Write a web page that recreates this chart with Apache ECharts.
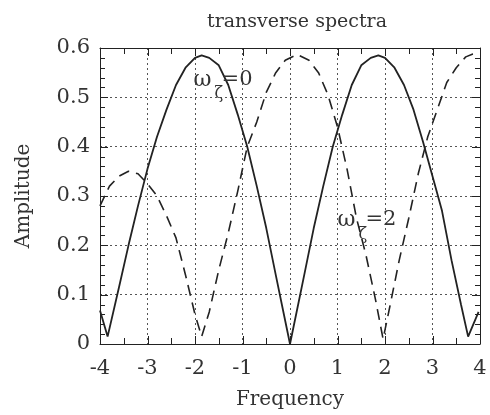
<!DOCTYPE html>
<html>
<head>
<meta charset="utf-8">
<script src="https://cdn.jsdelivr.net/npm/echarts@6/dist/echarts.min.js"></script>
<style>html,body{margin:0;padding:0;background:#fff}#c{width:490px;height:415px}</style>
</head>
<body>
<div id="c"></div>
<script>
// omega_zeta = 0 (solid)
var solidX = [-4.0, -3.84, -3.6, -3.4, -3.2, -3.0, -2.8, -2.6, -2.4, -2.2, -2.0, -1.86, -1.7, -1.5, -1.3, -1.1, -0.9, -0.7, -0.5, -0.3, -0.15, 0,
              0.15, 0.3, 0.5, 0.7, 0.9, 1.1, 1.3, 1.5, 1.7, 1.86, 2.0, 2.2, 2.4, 2.6, 2.8, 3.0, 3.2, 3.4, 3.6, 3.75, 3.97];
var solidY = [0.068, 0.015, 0.115, 0.2, 0.28, 0.355, 0.42, 0.475, 0.525, 0.56, 0.58, 0.585, 0.58, 0.565, 0.525, 0.465, 0.4, 0.32, 0.235, 0.14, 0.07, 0.0,
              0.07, 0.14, 0.235, 0.32, 0.4, 0.465, 0.525, 0.565, 0.58, 0.585, 0.58, 0.56, 0.525, 0.475, 0.41, 0.34, 0.27, 0.17, 0.08, 0.015, 0.065];
// omega_zeta = 2 (dashed)
var dashX = [-4.0, -3.8, -3.6, -3.4, -3.2, -3.0, -2.8, -2.6, -2.4, -2.2, -2.0, -1.86, -1.7, -1.5, -1.3, -1.1, -0.9, -0.7, -0.5, -0.3, -0.1, 0.15,
             0.4, 0.6, 0.8, 1.0, 1.2, 1.4, 1.6, 1.8, 1.96, 2.1, 2.3, 2.5, 2.7, 2.9, 3.1, 3.3, 3.5, 3.7, 3.85, 3.97];
var dashY = [0.28, 0.32, 0.34, 0.35, 0.345, 0.325, 0.3, 0.26, 0.215, 0.14, 0.06, 0.015, 0.065, 0.15, 0.225, 0.31, 0.4, 0.45, 0.51, 0.55, 0.575, 0.587,
             0.575, 0.55, 0.505, 0.44, 0.355, 0.255, 0.18, 0.09, 0.01, 0.075, 0.17, 0.255, 0.345, 0.42, 0.475, 0.53, 0.56, 0.582, 0.588, 0.59];
// tick positions
var xMajorTicks = [-4, -3, -2, -1, 0, 1, 2, 3, 4];
var xMinorTicks = [-3.5, -2.5, -1.5, -0.5, 0.5, 1.5, 2.5, 3.5];
var yMajorTicks = [0, 0.1, 0.2, 0.3, 0.4, 0.5, 0.6];
var yMinorTicks = [0.02, 0.04, 0.06, 0.08, 0.12, 0.14, 0.16, 0.18, 0.22, 0.24, 0.26, 0.28,
                   0.32, 0.34, 0.36, 0.38, 0.42, 0.44, 0.46, 0.48, 0.52, 0.54, 0.56, 0.58];
var titleText = 'transverse spectra';
var xName = 'Frequency';
var yName = 'Amplitude';

function pairs(xs, ys) { return xs.map(function (x, i) { return [x, ys[i]]; }); }

var FONT = 'DejaVu Serif';
var INK = '#222';
var X0 = -4, X1 = 4, Y0 = 0, Y1 = 0.6;
var MAJ = 8, MIN_X = 6, MIN_Y = 5;

var chart = echarts.init(document.getElementById('c'));
var gridLine = {show: true, lineStyle: {type: [2, 3], color: '#555', width: 1}};
function axis(min, max, interval, pos, extra) {
  var o = {
    type: 'value', min: min, max: max, interval: interval, position: pos,
    axisLine: {show: true, onZero: false, lineStyle: {color: INK, width: 1}},
    axisTick: {show: false},
    minorTick: {show: false},
    splitLine: {show: false},
    axisLabel: {show: false}
  };
  return Object.assign(o, extra || {});
}
chart.setOption({
  animation: false,
  backgroundColor: '#fff',
  title: {text: titleText, left: 292, top: 8, textAlign: 'center',
          textStyle: {fontFamily: FONT, fontSize: 19, fontWeight: 'normal', color: '#333'}},
  grid: {left: 100, right: 10, top: 48, bottom: 66},
  xAxis: [
    axis(X0, X1, 1, 'bottom', {
      splitLine: gridLine,
      axisLabel: {show: true, fontFamily: FONT, fontSize: 21, color: '#333', margin: 14},
      name: xName, nameLocation: 'middle', nameGap: 46,
      nameTextStyle: {fontFamily: FONT, fontSize: 20, color: '#333'}}),
    axis(X0, X1, 1, 'top')
  ],
  yAxis: [
    axis(Y0, Y1, 0.1, 'left', {
      splitLine: gridLine,
      axisLabel: {show: true, fontFamily: FONT, fontSize: 21, color: '#333', margin: 10},
      name: yName, nameLocation: 'middle', nameGap: 66, nameRotate: 90,
      nameTextStyle: {fontFamily: FONT, fontSize: 20, color: '#333'}}),
    axis(Y0, Y1, 0.1, 'right')
  ],
  series: [
    {type: 'line', name: 'wz0', data: pairs(solidX, solidY), showSymbol: false, symbol: 'none',
     lineStyle: {color: INK, width: 1.8}},
    {type: 'line', name: 'wz2', data: pairs(dashX, dashY), showSymbol: false, symbol: 'none',
     lineStyle: {color: INK, width: 1.6, type: [11, 7]}}
  ]
});

function px(x, y) { return chart.convertToPixel({xAxisIndex: 0, yAxisIndex: 0}, [x, y]); }

// inward ticks on all four sides, placed through the axis scales
function tickLine(x, y, dx, dy) {
  var p = px(x, y);
  var a = Math.round(p[0]), b = Math.round(p[1]);
  if (dx === 0) { a += 0.5; } else { b += 0.5; }
  return {type: 'line', z: 50, silent: true,
          shape: {x1: a, y1: b, x2: a + dx, y2: b + dy},
          style: {stroke: INK, lineWidth: 1}};
}
function ticks() {
  var g = [];
  xMajorTicks.forEach(function (v) { g.push(tickLine(v, Y0, 0, -MAJ)); g.push(tickLine(v, Y1, 0, MAJ)); });
  xMinorTicks.forEach(function (v) { g.push(tickLine(v, Y0, 0, -MIN_X)); g.push(tickLine(v, Y1, 0, MIN_X)); });
  yMajorTicks.forEach(function (v) { g.push(tickLine(X0, v, MAJ, 0)); g.push(tickLine(X1, v, -MAJ, 0)); });
  yMinorTicks.forEach(function (v) { g.push(tickLine(X0, v, MIN_Y, 0)); g.push(tickLine(X1, v, -MIN_Y, 0)); });
  return g;
}

// annotations positioned in data coordinates
function annot(x, y, val) {
  var p = px(x, y);
  var st = {fontFamily: FONT, fill: '#333'};
  return [
    {type: 'text', x: p[0], y: p[1], z: 60, style: Object.assign({text: '\u03c9', fontSize: 22, verticalAlign: 'middle'}, st)},
    {type: 'text', x: p[0] + 21, y: p[1] + 14, z: 60, style: Object.assign({text: '\u03b6', fontSize: 16, verticalAlign: 'middle'}, st)},
    {type: 'text', x: p[0] + 28, y: p[1] - 1, z: 60, style: Object.assign({text: '=' + val, fontSize: 21, verticalAlign: 'middle'}, st)}
  ];
}
chart.setOption({graphic: ticks().concat(annot(-2.03, 0.535, '0')).concat(annot(1.0, 0.25, '2'))});
</script>
</body>
</html>
